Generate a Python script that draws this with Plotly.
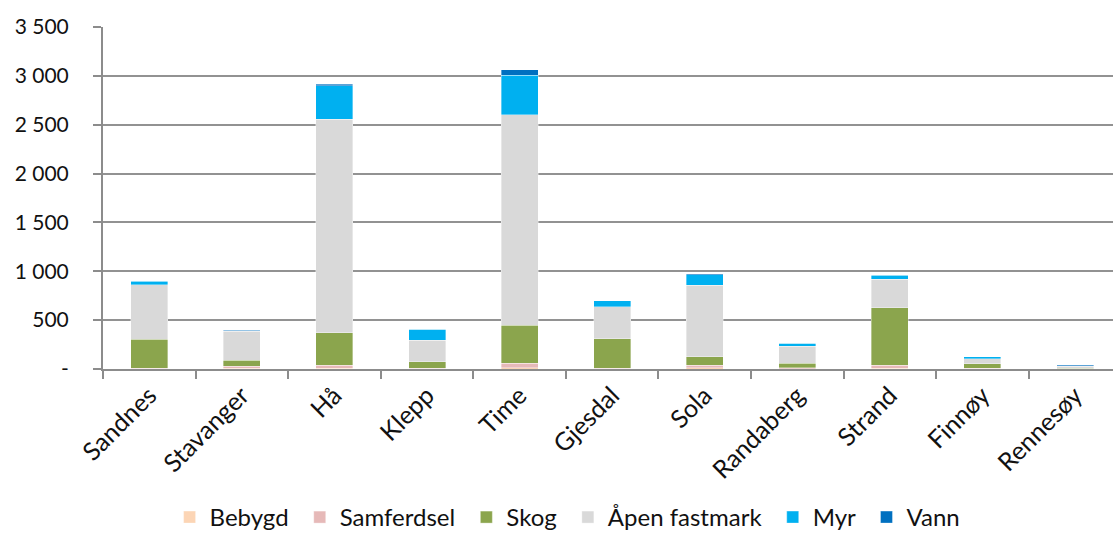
import plotly.graph_objects as go

categories = ["Sandnes", "Stavanger", "Hå", "Klepp", "Time", "Gjesdal", "Sola",
              "Randaberg", "Strand", "Finnøy", "Rennesøy"]

bebygd = [2, 10, 10, 3, 15, 2, 15, 5, 10, 3, 2]
samferdsel = [5, 20, 30, 7, 45, 5, 25, 10, 30, 5, 3]
skog = [300, 58, 330, 62, 390, 303, 83, 46, 587, 46, 5]
apen_fastmark = [553, 300, 2185, 222, 2150, 328, 733, 174, 294, 52, 20]
myr = [40, 5, 345, 112, 405, 58, 110, 30, 41, 17, 3]
vann = [3, 2, 15, 2, 57, 3, 8, 1, 4, 2, 11]

series = [
    ("Bebygd", bebygd, "#FCD5B5"),
    ("Samferdsel", samferdsel, "#E6B9B8"),
    ("Skog", skog, "#8BA54D"),
    ("Åpen fastmark", apen_fastmark, "#D9D9D9"),
    ("Myr", myr, "#00B0F0"),
    ("Vann", vann, "#0070C0"),
]

ytickvals = [0, 500, 1000, 1500, 2000, 2500, 3000, 3500]
yticktext = ["-", "500", "1 000", "1 500", "2 000", "2 500", "3 000", "3 500"]

pad = "\u00a0"

fig = go.Figure()
for i, (name, vals, color) in enumerate(series):
    fig.add_trace(go.Bar(
        name=name + (pad if i < len(series) - 1 else ""), x=categories, y=vals,
        marker=dict(color=color, line=dict(width=0.6, color="rgba(255,255,255,0.6)")),
    ))

font_family = "Lato, 'Open Sans', sans-serif"
fig.update_layout(
    barmode="stack",
    bargap=0.6,
    width=1113, height=541,
    margin=dict(l=103, r=0, t=27, b=172),
    paper_bgcolor="white",
    plot_bgcolor="white",
    font=dict(family=font_family, size=22, color="#111111"),
    legend=dict(
        orientation="h", x=0.46, xanchor="center", y=-0.50, yanchor="bottom",
        font=dict(size=24), traceorder="normal", itemwidth=30,
    ),
    xaxis=dict(
        type="category",
        range=[-0.5, 10.41],
        tickangle=-45,
        ticks="outside", ticklen=8, tickwidth=2, tickcolor="#8c8c8c",
        tickson="boundaries",
        showline=True, linecolor="#8c8c8c", linewidth=2,
        showgrid=False,
        automargin=False,
        tickfont=dict(size=25),
    ),
    yaxis=dict(
        range=[0, 3500],
        tickvals=ytickvals, ticktext=yticktext,
        ticks="outside", ticklen=8, tickwidth=1.5, tickcolor="#8c8c8c",
        showline=True, linecolor="#8c8c8c", linewidth=2,
        showgrid=True, gridcolor="#929292", gridwidth=1.5,
        zeroline=False,
        automargin=False,
        tickfont=dict(size=21),
        ticklabelstandoff=20,
    ),
)

fig.write_html("out.html", config={"displayModeBar": False},
               post_script="document.body.style.margin='0px';")
